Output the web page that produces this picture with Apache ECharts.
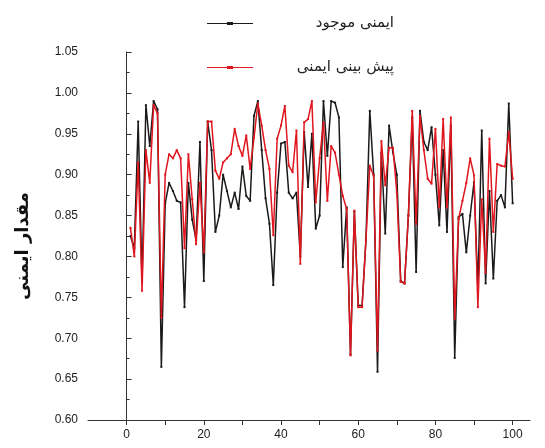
<!DOCTYPE html>
<html>
<head>
<meta charset="utf-8">
<script src="https://cdn.jsdelivr.net/npm/echarts@6/dist/echarts.min.js"></script>
<style>html,body{margin:0;padding:0;background:#fff}#c{width:545px;height:448px}</style>
</head>
<body>
<div id="c"></div>
<script>
var seriesNames = ['ایمنی موجود', 'پیش بینی ایمنی'];
var seriesColors = ['#1a1a1a', '#e0161e'];
var yAxisName = 'مقدار ایمنی';
var xTickLabels = [0, 20, 40, 60, 80, 100];
var yTickLabels = ['0.60','0.65','0.70','0.75','0.80','0.85','0.90','0.95','1.00','1.05'];

var actualSafety = [
 0.825,0.81,0.965,0.77,0.985,0.935,0.99,0.98,0.665,0.865,
 0.89,0.88,0.868,0.866,0.738,0.89,0.845,0.82,0.94,0.77,
 0.965,0.93,0.83,0.85,0.90,0.88,0.86,0.878,0.858,0.91,
 0.874,0.868,0.972,0.99,0.93,0.871,0.84,0.765,0.878,0.938,
 0.94,0.878,0.871,0.878,0.80,0.952,0.885,0.95,0.834,0.85,
 0.99,0.923,0.99,0.988,0.97,0.787,0.86,0.68,0.855,0.74,
 0.74,0.82,0.978,0.90,0.659,0.927,0.828,0.96,0.927,0.90,
 0.77,0.767,0.85,0.97,0.781,0.978,0.94,0.93,0.958,0.90,
 0.838,0.93,0.83,0.96,0.676,0.848,0.852,0.805,0.85,0.891,
 0.76,0.954,0.767,0.88,0.773,0.868,0.875,0.86,0.987,0.865
];
var predictedSafety = [
 0.835,0.80,0.915,0.758,0.93,0.89,0.985,0.975,0.725,0.90,
 0.925,0.92,0.93,0.92,0.81,0.925,0.87,0.815,0.89,0.805,
 0.965,0.965,0.905,0.895,0.915,0.92,0.925,0.956,0.935,0.923,
 0.948,0.907,0.945,0.987,0.96,0.93,0.907,0.826,0.944,0.96,
 0.984,0.911,0.903,0.954,0.791,0.964,0.968,0.99,0.866,0.92,
 0.964,0.868,0.935,0.927,0.90,0.874,0.858,0.679,0.856,0.738,
 0.738,0.82,0.911,0.899,0.685,0.941,0.887,0.933,0.933,0.878,
 0.769,0.767,0.85,0.978,0.84,0.972,0.93,0.895,0.889,0.956,
 0.86,0.968,0.86,0.97,0.724,0.846,0.868,0.89,0.92,0.899,
 0.738,0.87,0.78,0.944,0.83,0.913,0.911,0.91,0.952,0.895
];

function toPairs(arr){ return arr.map(function(v,i){ return [i+1, v]; }); }

var chart = echarts.init(document.getElementById('c'), null, {renderer:'canvas'});
var font = 'Liberation Sans, Arial, sans-serif';
var faFont = 'DejaVu Sans, sans-serif';
chart.setOption({
  animation: false,
  backgroundColor: '#fff',
  grid: {left: 88, right: 15, top: 52, bottom: 28, containLabel: false},
  legend: {
    orient: 'vertical', left: 202, top: 11, itemGap: 29,
    itemWidth: 46, itemHeight: 10,
    data: seriesNames.map(function(n, i){
      return {name: n, icon: 'path://M0,4.4L20,4.4L20,3.6L26,3.6L26,4.4L46,4.4L46,5.6L26,5.6L26,6.4L20,6.4L20,5.6L0,5.6Z',
              itemStyle: {color: seriesColors[i], borderWidth: 0}};
    }),
    formatter: function(n){ return '{t|' + n + '}'; },
    textStyle: {
      fontFamily: faFont, fontSize: 15, color: '#222',
      rich: {t: {width: 136, align: 'right', fontFamily: faFont, fontSize: 15, color: '#222'}}
    }
  },
  xAxis: {
    type: 'value', min: -10, max: 104.5, interval: 10,
    splitLine: {show: false},
    axisLine: {lineStyle: {color: '#333', width: 1}},
    axisTick: {show: true, inside: false, length: 5, customValues: [0,10,20,30,40,50,60,70,80,90,100], lineStyle: {color: '#333'}},
    axisLabel: {customValues: xTickLabels, margin: 9, fontFamily: font, fontSize: 12, color: '#222'}
  },
  yAxis: {
    type: 'value', min: 0.6, max: 1.05, interval: 0.05,
    name: yAxisName, nameLocation: 'middle', nameGap: 56, nameRotate: 90,
    nameTextStyle: {fontFamily: faFont, fontSize: 18, fontWeight: 'bold', color: '#111', padding: [0, 20, 0, 0]},
    splitLine: {show: false},
    axisLine: {show: true, lineStyle: {color: '#333', width: 1}},
    axisTick: {show: true, inside: true, length: 5, lineStyle: {color: '#333'}},
    minorTick: {show: true, splitNumber: 2, length: 3, lineStyle: {color: '#333'}},
    axisLabel: {margin: 10, fontFamily: font, fontSize: 12, color: '#222',
      formatter: function(v){ var i = Math.round((v-0.6)/0.05); return yTickLabels[i] || ''; }}
  },
  series: [
    {name: seriesNames[0], type: 'line', data: toPairs(actualSafety),
     color: seriesColors[0], lineStyle: {width: 1.5, color: seriesColors[0]},
     symbol: 'rect', symbolSize: 2, showSymbol: true, itemStyle: {color: seriesColors[0]}, z: 2},
    {name: seriesNames[1], type: 'line', data: toPairs(predictedSafety),
     color: seriesColors[1], lineStyle: {width: 1.5, color: seriesColors[1]},
     symbol: 'rect', symbolSize: 2, showSymbol: true, itemStyle: {color: seriesColors[1]}, z: 3}
  ]
});
</script>
</body>
</html>
